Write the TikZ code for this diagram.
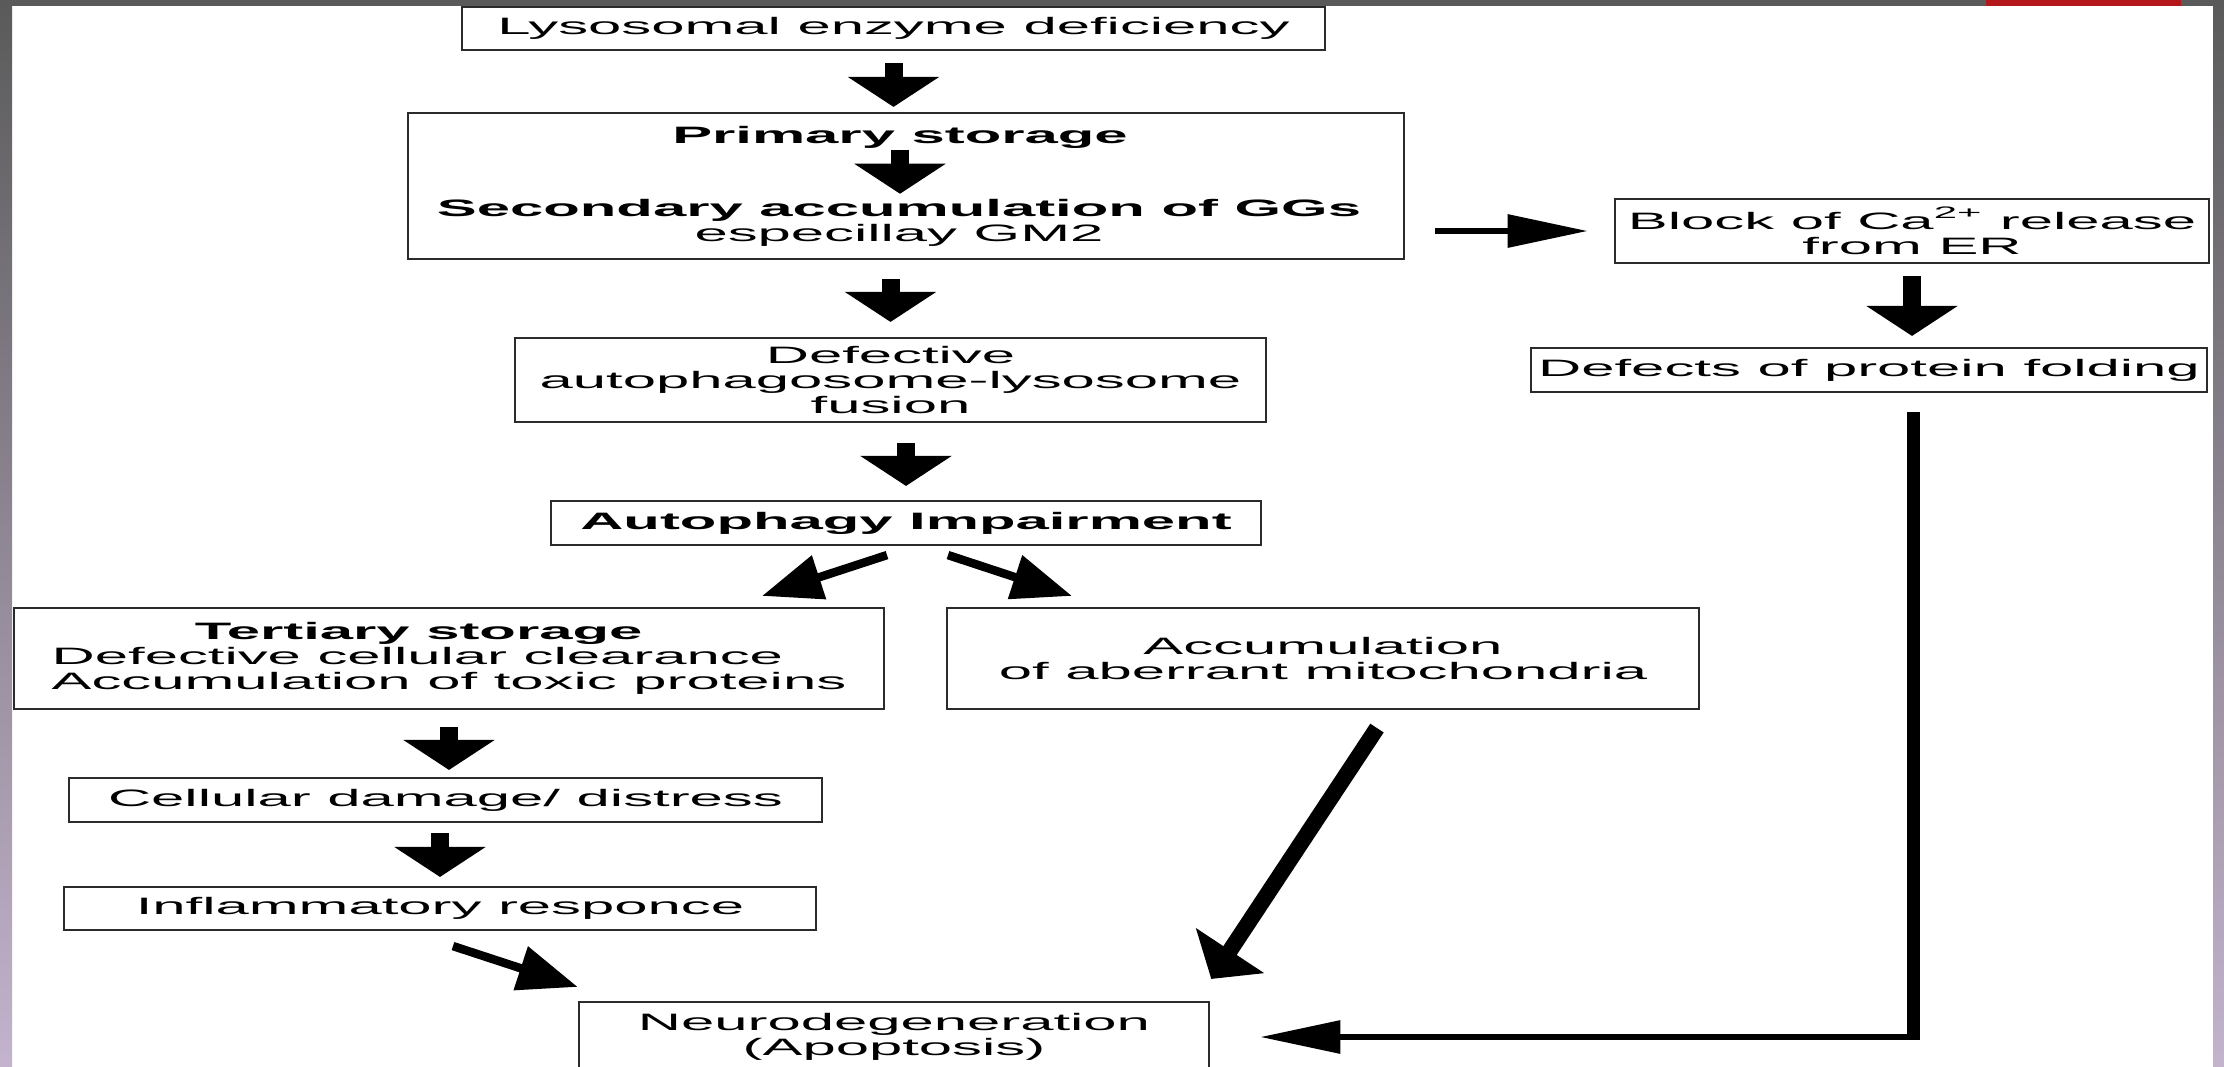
\documentclass[tikz,border=0pt]{standalone}
\usepackage{fontspec}
\setmainfont{Liberation Sans}[FakeStretch=2.52]
\usetikzlibrary{arrows.meta,positioning}
\newcommand{\diagfont}{\fontsize{6.75}{7.1}\selectfont}
\definecolor{framegray}{HTML}{5A5A5A}
\definecolor{framemid}{HTML}{7E8591}
\definecolor{framelav}{HTML}{C3B3CD}
\definecolor{framered}{HTML}{B3161B}
\definecolor{boxline}{HTML}{2B2B2B}

\begin{document}
\begin{tikzpicture}[
  x=0.01cm, y=-0.01cm,
  box/.style={
    draw=boxline,
    line width=0.6pt,
    align=center,
    inner sep=0pt,
    font=\diagfont
  },
  plain/.style={align=center, inner sep=0pt, font=\diagfont},
  varr/.style={-{Triangle[length=0.3cm,width=0.9cm]}, line width=0.18cm},
  harr/.style={-{Triangle[length=0.8cm,width=0.32cm]}, line width=0.06cm},
  darr/.style={-{Triangle[length=0.6cm,width=0.44cm]}, line width=0.085cm},
  marr/.style={-{Triangle[length=0.34cm,width=0.8cm]}, line width=0.16cm},
  rail/.style={line width=0.13cm}
]
  \useasboundingbox (0,0) rectangle (2224,1066);
  \fill[white] (0,0) rectangle (2224,1066);
  \shade[top color=framegray, middle color=framemid, bottom color=framelav] (0,0) rectangle (12,1066);
  \shade[top color=framegray, middle color=framemid!80!framelav, bottom color=framelav] (2213,0) rectangle (2224,1066);
  \fill[framegray] (0,0) rectangle (2224,6);
  \fill[framered] (1986,0) rectangle (2181,6);

  \node[box, minimum width=8.63cm, minimum height=0.43cm] (lyso) at (893.5,28.5)
    {Lysosomal enzyme deficiency};

  \node[box, minimum width=9.96cm, minimum height=1.46cm] (prim) at (906,186) {};
  \node[plain, anchor=base] (pstore) at (900,143) {\textbf{Primary storage}};
  \node[plain] (second) at (899,223)
    {\textbf{Secondary accumulation of GGs}\\ especillay GM2};

  \node[box, minimum width=7.51cm, minimum height=0.84cm] (defect) at (890.5,380)
    {Defective\\ autophagosome-lysosome\\ fusion};
  \node[box, minimum width=7.1cm, minimum height=0.44cm] (autoph) at (906,523)
    {\textbf{Autophagy Impairment}};

  \node[box, align=left, minimum width=8.7cm, minimum height=1.01cm] (tert) at (449,658.5)
    {\hspace*{1.43cm}\textbf{Tertiary storage}\\
     Defective cellular clearance\\
     Accumulation of toxic proteins};
  \node[box, minimum width=7.52cm, minimum height=1.01cm] (mito) at (1323,658.5)
    {Accumulation\\ of aberrant mitochondria};

  \node[box, minimum width=7.53cm, minimum height=0.44cm] (cell) at (445.5,800)
    {Cellular damage/ distress};
  \node[box, minimum width=7.52cm, minimum height=0.43cm] (inflam) at (440,908.5)
    {Inflammatory responce};
  \node[box, minimum width=6.3cm, minimum height=0.7cm] (neuro) at (894,1037)
    {Neurodegeneration\\ (Apoptosis)};

  \node[box, minimum width=5.94cm, minimum height=0.64cm] (block) at (1912,231)
    {Block of Ca\textsuperscript{2+} release\\ from ER};
  \node[box, minimum width=6.76cm, minimum height=0.44cm] (fold) at (1869,370)
    {Defects of protein folding};

  \coordinate (corner) at ([shift={(44,0)}]fold.south |- neuro.east);

  \draw[varr, shorten <=0.12cm, shorten >=0.05cm] (lyso.south) -- (lyso.south |- prim.north);
  \draw[varr, shorten <=0.01cm, shorten >=0.05cm] (pstore.south) -- (pstore.south |- second.north);
  \draw[varr, shorten <=0.19cm, shorten >=0.15cm] (defect.north |- prim.south) -- (defect.north);
  \draw[varr, shorten <=0.2cm, shorten >=0.14cm] (autoph.north |- defect.south) -- (autoph.north);
  \draw[darr] ([shift={(-19,9)}]autoph.south) -- ([shift={(313,-11)}]tert.north);
  \draw[darr] ([shift={(42,9)}]autoph.south) -- ([shift={(-251,-11)}]mito.north);
  \draw[varr, shorten <=0.17cm, shorten >=0.07cm] (tert.south) -- (tert.south |- cell.north);
  \draw[varr, shorten <=0.1cm, shorten >=0.09cm] (inflam.north |- cell.south) -- (inflam.north);
  \draw[darr] ([shift={(13,15)}]inflam.south) -- ([shift={(0,-14)}]neuro.north west);
  \draw[marr] ([shift={(54,18)}]mito.south) -- ([shift={(1,-22)}]neuro.north east);

  \draw[harr, shorten <=0.3cm, shorten >=0.26cm] (prim.east |- block.west) -- (block.west);
  \draw[varr, shorten <=0.12cm, shorten >=0.11cm] (block.south) -- (block.south |- fold.north);
  \draw[rail] ([shift={(44,19)}]fold.south) -- ([shift={(0,3)}]corner);
  \draw[harr] ([shift={(6.5,0)}]corner) -- ([shift={(50,0)}]neuro.east);
\end{tikzpicture}
\end{document}
